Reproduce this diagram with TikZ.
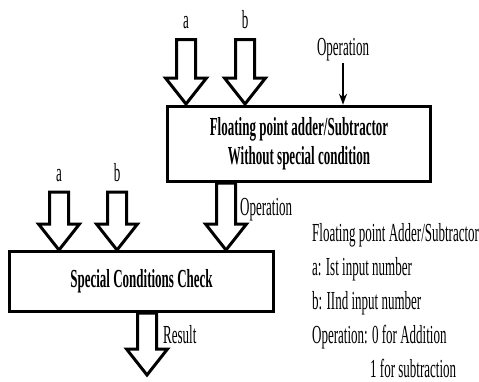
\documentclass[tikz,border=0pt]{standalone}
\usepackage{fontspec}
\setmainfont{Liberation Serif}[FakeStretch=0.5]
\usetikzlibrary{arrows.meta,calc}
\tikzset{
  blk/.style={draw,line width=3.5pt,inner sep=0pt,font=\fontsize{26}{29}\selectfont\bfseries,align=center},
  fat/.style={draw,line width=3pt,fill=white,line join=miter},
  lbl/.style={inner sep=0pt,font=\fontsize{26}{29}\selectfont,anchor=base},
  thin/.style={line width=2pt,-{Stealth[length=11pt,width=8pt]}}
}
% fat arrow: #1 = x, #2 = top y, #3 = tip y
\newcommand\fatarr[3]{%
  \draw[fat] (#1-9.5,#2) -- (#1+9.5,#2) -- (#1+9.5,#3-26) -- (#1+20.5,#3-26)
    -- (#1,#3) -- (#1-20.5,#3-26) -- (#1-9.5,#3-26) -- cycle;}
\begin{document}
\begin{tikzpicture}[x=1pt,y=-1pt]
\useasboundingbox (0,0) rectangle (479,381);
% boxes
\node[blk,minimum width=263pt,minimum height=75pt] (fp) at (299,144)
  {Floating point adder/Subtractor\\Without special condition};
\node[blk,minimum width=264pt,minimum height=60pt] (sc) at (141.5,281.5)
  {Special Conditions Check};
% top inputs
\node[lbl] (la1) at (186,28) {a};
\node[lbl] (lb1) at (245,28) {b};
\fatarr{186}{39.5}{104}
\fatarr{245}{39.5}{104}
\node[lbl] (op1) at (343,55) {Operation};
\coordinate (opin) at (343,63);
\draw[thin] (opin) -- (opin |- fp.north);
% bottom inputs
\node[lbl] (la2) at (59,181) {a};
\node[lbl] (lb2) at (117,181) {b};
\fatarr{59}{192}{250}
\fatarr{117}{192}{250}
\fatarr{226}{183}{250}
\node[lbl,anchor=base west] (op2) at (240,215) {Operation};
% result
\fatarr{147}{313}{375}
\node[lbl,anchor=base west] (res) at (163,343) {Result};
% legend
\node[lbl,anchor=north west,align=left,font=\fontsize{26}{34}\selectfont] (leg) at (312,223)
  {Floating point Adder/Subtractor\\
   a: Ist input number\\
   b: IInd input number\\
   Operation: 0 for Addition\\
   \hspace*{58pt}1 for subtraction};
\end{tikzpicture}
\end{document}
